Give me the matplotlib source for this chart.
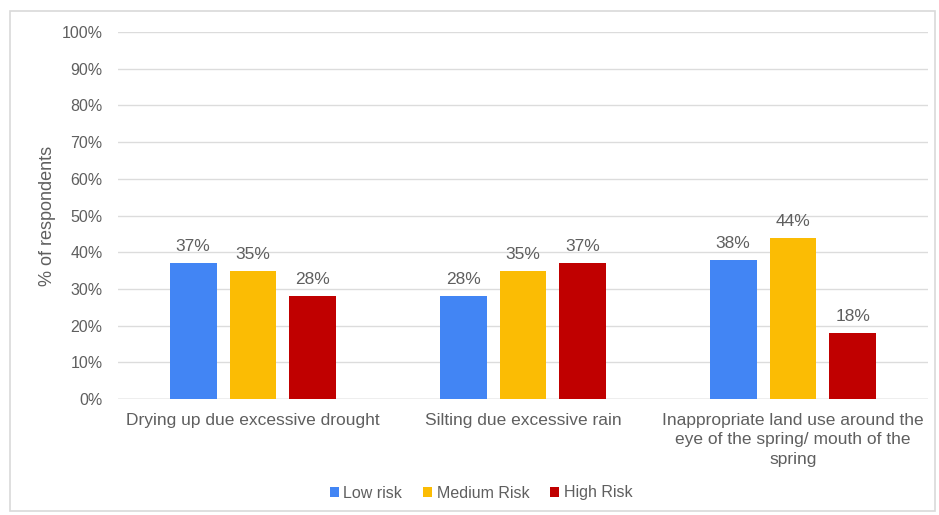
import matplotlib
matplotlib.use("Agg")
import matplotlib.pyplot as plt
from matplotlib.patches import Rectangle
import numpy as np

plt.rcParams["font.family"] = ["Liberation Sans", "DejaVu Sans"]

categories = [
    "Drying up due excessive drought",
    "Silting due excessive rain",
    "Inappropriate land use around the\neye of the spring/ mouth of the\nspring",
]
series_names = ["Low risk", "Medium Risk", "High Risk"]
low_risk = [37, 28, 38]
medium_risk = [35, 35, 44]
high_risk = [28, 37, 18]
y_ticks = [0, 10, 20, 30, 40, 50, 60, 70, 80, 90, 100]

colors = ["#4285F4", "#FBBC04", "#C00000"]
text_color = "#5f5f5f"

W, H = 939, 515
fig = plt.figure(figsize=(W / 100, H / 100), dpi=100)
fig.patch.set_facecolor("white")

# light outer frame
fig.add_artist(Rectangle((10 / W, 4 / H), 925 / W, 500 / H, transform=fig.transFigure,
                         fill=False, edgecolor="#d9d9d9", linewidth=1.2))

ax = fig.add_axes([118 / W, 1 - 399 / H, 810 / W, 367 / H])

x = np.arange(len(categories))
bw = 0.174
step = 0.222
for i, (vals, name) in enumerate(zip([low_risk, medium_risk, high_risk], series_names)):
    pos = x + (i - 1) * step
    ax.bar(pos, vals, width=bw, color=colors[i], label=name, zorder=3)
    for p, v in zip(pos, vals):
        ax.text(p, v + 2.4, f"{v}%", ha="center", va="bottom",
                fontsize=12.5, color=text_color, zorder=4)

ax.set_xlim(-0.5, len(categories) - 0.5)
ax.set_ylim(0, 100)
ax.set_yticks(y_ticks)
ax.set_yticklabels([f"{t}%" for t in y_ticks])
ax.yaxis.grid(True, color="#dcdcdc", linewidth=1, zorder=0)
ax.set_axisbelow(True)
for s in ax.spines.values():
    s.set_visible(False)
ax.axhline(0, color="#c8c8c8", linewidth=1, zorder=2)
ax.tick_params(axis="y", length=0, pad=11, labelsize=11.5, labelcolor=text_color)
ax.tick_params(axis="x", length=0, pad=10, labelsize=12.5, labelcolor=text_color)
ax.set_xticks(x)
ax.set_xticklabels(categories, linespacing=1.37, va="top")
ax.set_ylabel("% of respondents", fontsize=13, color=text_color, labelpad=4)

leg = fig.legend(loc="center", bbox_to_anchor=(481 / W, 1 - 493 / H), ncol=3,
                 frameon=False, fontsize=11.5, handlelength=0.55, handleheight=0.55,
                 handletextpad=0.3, columnspacing=1.3)
for t in leg.get_texts():
    t.set_color(text_color)

fig.savefig("out.png", dpi=100, facecolor="white")
